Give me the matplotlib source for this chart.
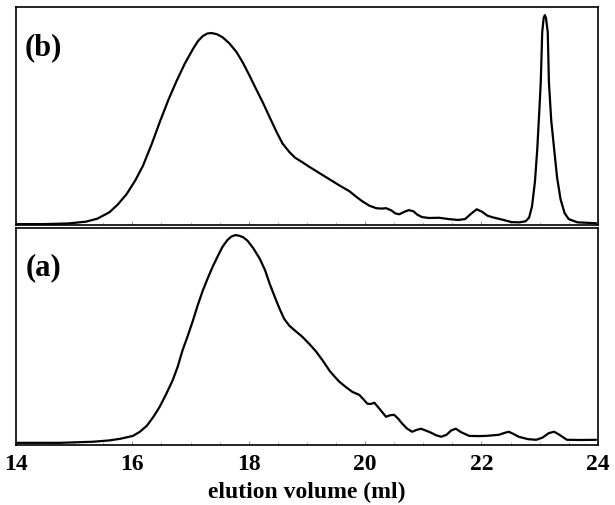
import numpy as np
import matplotlib
matplotlib.use("Agg")
import matplotlib.pyplot as plt
from matplotlib.ticker import MultipleLocator

# trace (b): elution volume (ml) vs. detector signal (arbitrary units)
vol_b = [14.00, 14.50, 14.90, 15.20, 15.40, 15.61, 15.75, 15.90, 16.05, 16.18,
         16.33, 16.47, 16.62, 16.76, 16.90, 17.04, 17.13, 17.21, 17.29, 17.36,
         17.45, 17.55, 17.67, 17.79, 17.90, 18.01, 18.12, 18.24, 18.36, 18.48,
         18.58, 18.70, 18.80, 18.92, 19.04, 19.16, 19.30, 19.44, 19.58, 19.73,
         19.85, 19.95, 20.07, 20.19, 20.28, 20.36, 20.45, 20.52, 20.59, 20.68,
         20.75, 20.83, 20.90, 20.98, 21.10, 21.27, 21.44, 21.60, 21.72, 21.82,
         21.92, 22.02, 22.10, 22.18, 22.35, 22.52, 22.65, 22.76, 22.82, 22.87,
         22.92, 22.96, 23.00, 23.02, 23.045, 23.07, 23.09, 23.11, 23.14, 23.16,
         23.20, 23.25, 23.30, 23.36, 23.43, 23.50, 23.65, 23.97]
sig_b = [0.5, 0.5, 0.8, 1.6, 3.0, 6.0, 9.5, 14.2, 20.5, 27.1,
         37.0, 47.2, 57.5, 66.1, 74.0, 80.7, 84.5, 86.7, 87.9, 88.1,
         87.6, 86.2, 83.3, 79.4, 74.5, 68.8, 62.8, 56.4, 49.5, 42.7,
         37.5, 33.5, 30.9, 28.9, 26.8, 24.8, 22.5, 20.2, 17.9, 15.6,
         13.0, 11.0, 9.0, 7.8, 7.6, 7.8, 6.8, 5.4, 5.0, 6.2,
         6.9, 6.4, 4.8, 3.7, 3.3, 3.4, 2.8, 2.4, 2.8, 5.2,
         7.3, 6.0, 4.4, 3.7, 2.6, 1.4, 1.3, 1.8, 3.5, 8.7,
         20.0, 34.9, 55.0, 65.6, 88.5, 95.0, 96.3, 95.0, 88.5, 65.6,
         48.0, 34.9, 22.0, 11.9, 5.5, 2.8, 1.3, 0.9]

# trace (a)
vol_a = [14.00, 14.75, 15.32, 15.60, 15.80, 16.01, 16.13, 16.25, 16.36, 16.47,
         16.58, 16.69, 16.78, 16.86, 16.95, 17.04, 17.12, 17.21, 17.30, 17.38,
         17.47, 17.55, 17.63, 17.70, 17.77, 17.84, 17.91, 17.98, 18.08, 18.19,
         18.28, 18.36, 18.45, 18.53, 18.61, 18.70, 18.80, 18.92, 19.04, 19.16,
         19.28, 19.39, 19.48, 19.56, 19.67, 19.78, 19.90, 19.97, 20.04, 20.10,
         20.16, 20.25, 20.36, 20.43, 20.50, 20.57, 20.64, 20.72, 20.81, 20.88,
         20.96, 21.05, 21.14, 21.22, 21.31, 21.40, 21.48, 21.56, 21.65, 21.79,
         21.95, 22.08, 22.30, 22.40, 22.47, 22.55, 22.64, 22.80, 22.94, 23.05,
         23.16, 23.25, 23.33, 23.47, 23.70, 23.97]
sig_a = [0.9, 0.9, 1.4, 2.0, 2.8, 4.1, 6.0, 8.8, 12.8, 17.5,
         23.3, 29.5, 36.0, 43.3, 50.0, 57.1, 64.0, 71.0, 77.0, 82.0,
         87.0, 91.2, 94.2, 95.9, 96.6, 96.3, 95.5, 94.0, 90.5, 85.7,
         80.5, 74.2, 68.0, 62.7, 58.0, 54.8, 52.5, 49.8, 46.5, 42.9,
         38.5, 34.1, 31.3, 29.0, 26.6, 24.4, 23.0, 21.0, 18.9, 18.8,
         19.4, 16.5, 12.9, 13.6, 13.8, 12.0, 9.7, 7.5, 6.0, 6.8,
         7.4, 6.5, 5.5, 4.4, 3.7, 4.6, 6.6, 7.4, 5.8, 4.1,
         4.0, 4.1, 4.6, 5.5, 6.0, 5.0, 3.7, 2.6, 2.3, 3.3,
         5.4, 6.0, 4.8, 2.3, 2.2, 2.3]

x_ticks = [14, 16, 18, 20, 22, 24]

serif = ["Liberation Serif", "DejaVu Serif"]

fig = plt.figure(figsize=(6.15, 5.06), dpi=100)
ax_b = fig.add_axes([0.026, 0.553, 0.946, 0.431])
ax_a = fig.add_axes([0.026, 0.119, 0.946, 0.429])

for ax, vol, sig, tag in [(ax_b, vol_b, sig_b, "(b)"), (ax_a, vol_a, sig_a, "(a)")]:
    ax.plot(vol, sig, color="black", linewidth=1.6, solid_joinstyle="round",
            solid_capstyle="round")
    ax.set_xlim(14, 24)
    ax.set_ylim(0, 100)
    for s in ax.spines.values():
        s.set_linewidth(1.2)
    ax.set_yticks([])
    ax.xaxis.set_minor_locator(MultipleLocator(0.5))
    ax.tick_params(axis="x", which="major", direction="in", length=3, width=0.6, color="0.5")
    ax.tick_params(axis="x", which="minor", direction="in", length=2, width=0.5, color="0.6")
    ax.text(0.047, 0.82, tag, transform=ax.transAxes, ha="center", va="center",
            fontsize=22, fontweight="bold", family=serif)

ax_b.set_xticks(x_ticks)
ax_b.tick_params(axis="x", labelbottom=False)
ax_a.set_xticks(x_ticks)
ax_a.set_xticklabels([str(t) for t in x_ticks], fontsize=17, fontweight="bold", family=serif)
ax_a.tick_params(axis="x", pad=6)
ax_a.set_xlabel("elution volume (ml)", fontsize=17, fontweight="bold", family=serif, labelpad=5)

fig.savefig("out.png", dpi=100)
